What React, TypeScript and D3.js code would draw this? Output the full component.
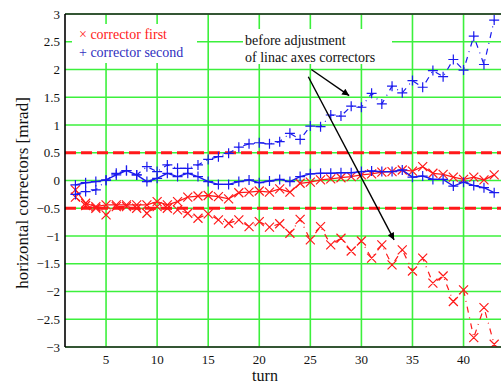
import React from "react";
import * as d3 from "d3";

const turns = [2, 3, 4, 5, 6, 7, 8, 9, 10, 11, 12, 13, 14, 15, 16, 17, 18, 19, 20, 21, 22, 23, 24, 25, 26, 27, 28, 29, 30, 31, 32, 33, 34, 35, 36, 37, 38, 39, 40, 41, 42, 43];

const redBefore = [-0.30, -0.45, -0.50, -0.62, -0.47, -0.47, -0.50, -0.59, -0.47, -0.50, -0.53, -0.59, -0.68, -0.60, -0.71, -0.77, -0.71, -0.83, -0.74, -0.84, -0.78, -0.95, -0.70, -1.07, -0.83, -1.16, -1.04, -1.27, -1.09, -1.40, -1.16, -1.52, -1.25, -1.63, -1.40, -1.85, -1.72, -2.18, -1.97, -2.83, -2.29, -2.95];
const redAfter = [-0.17, -0.41, -0.47, -0.44, -0.44, -0.44, -0.44, -0.44, -0.38, -0.44, -0.38, -0.30, -0.28, -0.27, -0.29, -0.33, -0.22, -0.21, -0.19, -0.21, -0.15, -0.21, -0.05, -0.03, 0.01, 0.03, 0.05, 0.07, 0.10, 0.12, 0.15, 0.16, 0.19, 0.17, 0.25, 0.13, 0.11, 0.06, 0.02, 0.06, 0.01, 0.10];
const blueAfter = [-0.08, -0.04, -0.02, 0.01, 0.10, 0.18, 0.10, -0.02, 0.04, 0.13, 0.07, 0.13, 0.07, -0.02, -0.07, -0.07, -0.02, 0.01, -0.04, -0.01, 0.02, -0.02, 0.07, 0.12, 0.13, 0.13, 0.14, 0.14, 0.16, 0.17, 0.16, 0.16, 0.19, 0.06, 0.08, 0.02, 0.02, -0.10, -0.03, -0.09, -0.13, -0.22];
const blueBefore = [-0.25, -0.20, -0.17, 0.00, 0.13, 0.18, 0.10, 0.25, 0.16, 0.28, 0.22, 0.22, 0.28, 0.38, 0.43, 0.49, 0.60, 0.66, 0.68, 0.66, 0.70, 0.85, 0.74, 0.98, 0.97, 1.18, 1.16, 1.34, 1.32, 1.57, 1.38, 1.70, 1.58, 1.80, 1.68, 1.98, 1.87, 2.18, 1.99, 2.60, 2.09, 2.89];

const xTicks = [5, 10, 15, 20, 25, 30, 35, 40];
const yTicks = [-3, -2.5, -2, -1.5, -1, -0.5, 0, 0.5, 1, 1.5, 2, 2.5, 3];
const limitLines = [0.5, -0.5];

const legendLabels = ["\u00d7 corrector first", "+ corrector second"];
const annotationLines = ["before adjustment", "of linac axes correctors"];
// arrows in data units: [fromTurn, fromValue, toTurn, toValue]
const arrows = [
  [25.1, 2.0, 28.8, 1.53],
  [24.8, 1.87, 33.2, -1.07],
];

const W = 501;
const H = 384;
const L = 65;
const T = 14;
const B = 347;
const FONT = '"Liberation Serif", "Times New Roman", "DejaVu Serif", serif';

export default function App() {
  const x = d3.scaleLinear().domain([1, 44]).range([65.2, 504.4]);
  const y = d3.scaleLinear().domain([-3, 3]).range([B, T]);
  const R = W;

  const line = (vals: number[]) =>
    d3
      .line<number>()
      .x((_, i) => x(turns[i]))
      .y((v) => y(v))(vals) || "";

  const cross = (vals: number[], s: number) =>
    vals
      .map((v, i) => {
        const cx = x(turns[i]);
        const cy = y(v);
        return `M${cx - s},${cy - s}L${cx + s},${cy + s}M${cx - s},${cy + s}L${cx + s},${cy - s}`;
      })
      .join("");
  const plus = (vals: number[], s: number) =>
    vals
      .map((v, i) => {
        const cx = x(turns[i]);
        const cy = y(v);
        return `M${cx - s},${cy}L${cx + s},${cy}M${cx},${cy - s}L${cx},${cy + s}`;
      })
      .join("");

  const red = "#ff1a1a";
  const blue = "#1a1aee";
  const green = "#3cf03c";
  const ts = { fontFamily: FONT };

  return (
    <svg
      width={W}
      height={H}
      style={{ position: "absolute", left: 0, top: 0, background: "#fff", fontFamily: FONT }}
    >
      <defs>
        <clipPath id="plot">
          <rect x={L} y={T} width={R - L} height={B - T} />
        </clipPath>
        <marker id="ah" viewBox="0 0 10 10" refX="10" refY="5" markerWidth="9" markerHeight="7" orient="auto" markerUnits="userSpaceOnUse">
          <path d="M0,0L10,5L0,10z" fill="#000" />
        </marker>
      </defs>
      <rect x={L} y={T} width={R - L} height={B - T} fill="#fff" />
      {yTicks.map((t) => (
        <line key={"gy" + t} x1={L} x2={R} y1={y(t)} y2={y(t)} stroke={green} strokeWidth={1.6} />
      ))}
      {xTicks.map((t) => (
        <line key={"gx" + t} x1={x(t)} x2={x(t)} y1={T} y2={B} stroke={green} strokeWidth={1.6} />
      ))}
      {limitLines.map((v) => (
        <line key={"lim" + v} x1={L} x2={R} y1={y(v)} y2={y(v)} stroke={red} strokeWidth={3} strokeDasharray="11,5" />
      ))}
      <rect x={72} y={24} width={125} height={39} fill="#fff" />
      <rect x={243} y={29} width={149} height={35} fill="#fff" />
      <g clipPath="url(#plot)" fill="none">
        <path d={line(redAfter)} stroke={red} strokeWidth={1.3} />
        <path d={cross(redAfter, 4.5)} stroke={red} strokeWidth={1.2} />
        <path d={line(redBefore)} stroke={red} strokeWidth={1.2} strokeDasharray="6,5,1,5" />
        <path d={cross(redBefore, 4.5)} stroke={red} strokeWidth={1.2} />
        <path d={line(blueAfter)} stroke={blue} strokeWidth={1.4} />
        <path d={plus(blueAfter, 5)} stroke={blue} strokeWidth={1.2} />
        <path d={line(blueBefore)} stroke={blue} strokeWidth={1.2} strokeDasharray="6,5,1,5" />
        <path d={plus(blueBefore, 5)} stroke={blue} strokeWidth={1.2} />
      </g>
      <line x1={L} x2={R} y1={T} y2={T} stroke="#222" strokeWidth={1.3} />
      <line x1={L} x2={R} y1={B} y2={B} stroke="#222" strokeWidth={1.6} />
      <line x1={L} x2={L} y1={T} y2={B} stroke="#000" strokeWidth={1.6} />
      <text x={79} y={39} fontSize={14} fill={red} style={ts}>{legendLabels[0]}</text>
      <text x={79} y={57} fontSize={14} fill="#3030c0" style={ts}>{legendLabels[1]}</text>
      {annotationLines.map((s, i) => (
        <text key={s} x={245} y={45 + i * 17} fontSize={14} fill="#111" style={ts}>{s}</text>
      ))}
      {arrows.map((a, i) => (
        <line
          key={"ar" + i}
          x1={x(a[0])}
          y1={y(a[1])}
          x2={x(a[2])}
          y2={y(a[3])}
          stroke="#000"
          strokeWidth={1.4}
          markerEnd="url(#ah)"
        />
      ))}
      {yTicks.map((t) => (
        <text key={"ty" + t} x={60} y={y(t)} dy="0.35em" textAnchor="end" fontSize={13} fill="#111" style={ts}>
          {t < 0 ? "\u2212" + Math.abs(t) : String(t)}
        </text>
      ))}
      {xTicks.map((t) => (
        <text key={"tx" + t} x={x(t)} y={364} textAnchor="middle" fontSize={13} fill="#111" style={ts}>
          {t}
        </text>
      ))}
      <text x={265} y={381} textAnchor="middle" fontSize={16} fill="#111" style={ts}>turn</text>
      <text
        transform={`translate(28,193) rotate(-90)`}
        textAnchor="middle"
        fontSize={17}
        fill="#111"
        style={ts}
      >
        horizontal correctors [mrad]
      </text>
    </svg>
  );
}
